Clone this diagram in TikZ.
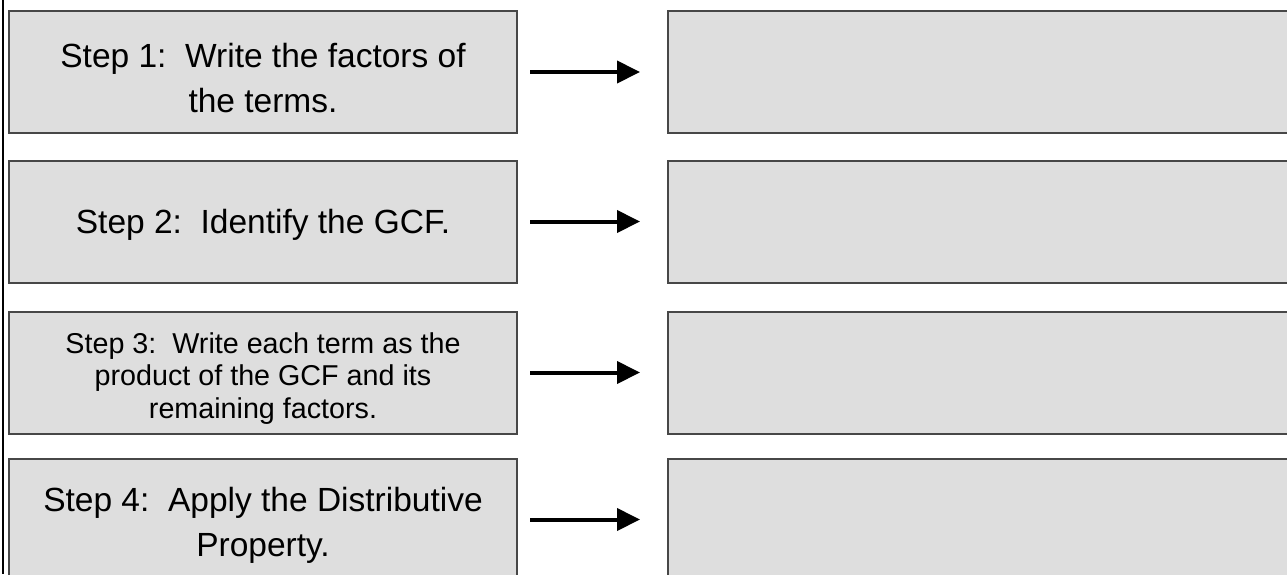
\documentclass[tikz,border=0pt]{standalone}
\usepackage{fontspec}
\setmainfont{Liberation Sans}
\usetikzlibrary{arrows.meta,positioning}

\begin{document}
\begin{tikzpicture}[x=1pt,y=-1pt,on grid,
    stepbox/.style={draw=black!72,line width=2pt,fill=black!13,
      minimum width=508pt,minimum height=122pt,inner sep=0pt,align=center,
      font=\fontsize{33.5}{45}\selectfont},
    ansbox/.style={stepbox,minimum width=632pt},
    arr/.style={-{Triangle[length=23pt,width=22pt]},line width=4pt,
      shorten <=12pt,shorten >=27pt}]
   \useasboundingbox (0,0) rectangle (1287,574);
   \clip (0,0) rectangle (1287,574);

   \node[stepbox] (step1) at (263,72) {\rule{0pt}{36pt}Step 1:\ \ Write the factors of\\the terms.};
   \node[stepbox] (step2) [below=149.5pt of step1] {\rule{0pt}{30.5pt}Step 2:\ \ Identify the GCF.};
   \node[stepbox,font=\fontsize{28.7}{32.5}\selectfont] (step3) [below=151pt of step2]
      {\rule{0pt}{32pt}Step 3:\ \ Write each term as the\\product of the GCF and its\\remaining factors.};
   \node[stepbox] (step4) [below=147pt of step3] {\rule{0pt}{36pt}Step 4:\ \ Apply the Distributive\\Property.};

   \node[ansbox] (ans1) [right=721pt of step1] {};
   \node[ansbox] (ans2) [right=721pt of step2] {};
   \node[ansbox] (ans3) [right=721pt of step3] {};
   \node[ansbox] (ans4) [right=721pt of step4] {};

   \path[arr]
   (step1.east) edge (step1.east -| ans1.west)
   (step2.east) edge (step2.east -| ans2.west)
   (step3.east) edge (step3.east -| ans3.west)
   (step4.east) edge (step4.east -| ans4.west);

   % frame line at the left edge
   \draw[line width=2pt] (2.5,0) -- (2.5,574);
\end{tikzpicture}
\end{document}
